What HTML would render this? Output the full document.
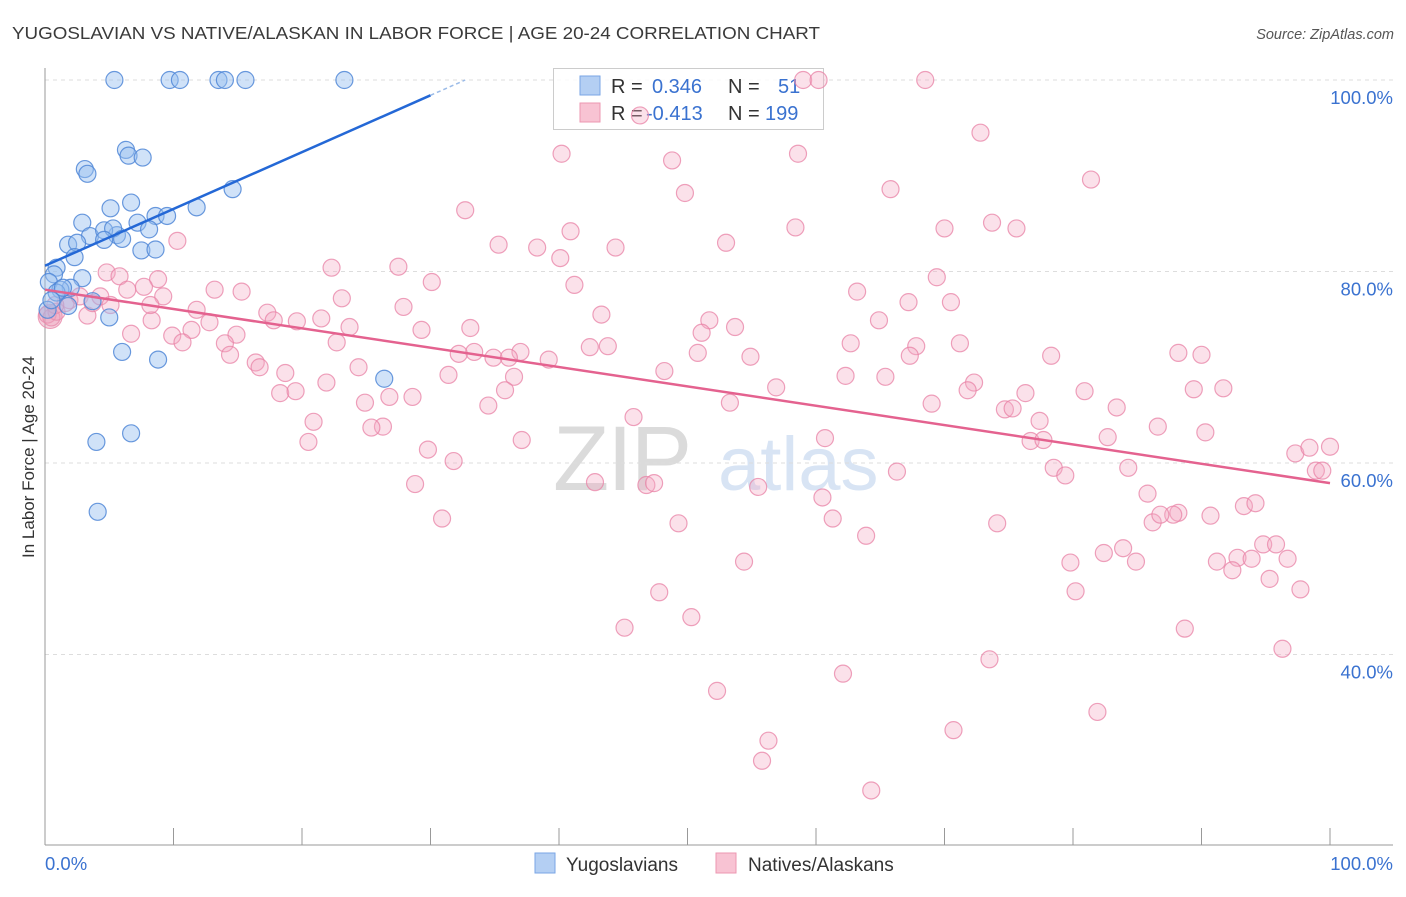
<!DOCTYPE html>
<html><head><meta charset="utf-8">
<style>
html,body{margin:0;padding:0;background:#fff;}
body{width:1406px;height:892px;overflow:hidden;font-family:"Liberation Sans",sans-serif;}
svg text{font-family:"Liberation Sans",sans-serif;}
</style></head>
<body>
<svg id="chart" width="1406" height="892" xmlns="http://www.w3.org/2000/svg">
  <text x="12" y="39" font-size="17.5" fill="#3a3a3a" textLength="808" lengthAdjust="spacingAndGlyphs">YUGOSLAVIAN VS NATIVE/ALASKAN IN LABOR FORCE | AGE 20-24 CORRELATION CHART</text>
  <text x="1394" y="39" font-size="14.5" fill="#555" font-style="italic" text-anchor="end">Source: ZipAtlas.com</text>
  <g opacity="0.45">
    <text x="553" y="490" font-size="92" font-family="Liberation Serif" fill="#b0b0b0" letter-spacing="-2">ZIP</text>
    <text x="718" y="490" font-size="76" fill="#a9c4e8">atlas</text>
  </g>
  <g id="grid"></g>
  <g id="axes"></g>
  <text transform="translate(34,457) rotate(-90)" font-size="17" fill="#333" text-anchor="middle">In Labor Force | Age 20-24</text>
  <g id="legend">
    <rect x="553.5" y="68.5" width="270" height="61" fill="#fff" fill-opacity="0.85" stroke="#ccc"/>
    <rect x="580" y="76" width="20" height="19" fill="#b4cff3" stroke="#7aa6e6"/>
    <rect x="580" y="103" width="20" height="19" fill="#f8c3d3" stroke="#ec97b2"/>
    <text x="611" y="93" font-size="20" fill="#333">R = </text>
    <text x="652" y="93" font-size="20" fill="#3a72d0">0.346</text>
    <text x="728" y="93" font-size="20" fill="#333">N = </text>
    <text x="778" y="93" font-size="20" fill="#3a72d0">51</text>
    <text x="611" y="120" font-size="20" fill="#333">R = </text>
    <text x="646" y="120" font-size="20" fill="#3a72d0">-0.413</text>
    <text x="728" y="120" font-size="20" fill="#333">N = </text>
    <text x="765" y="120" font-size="20" fill="#3a72d0">199</text>
  </g>
  <g id="points"></g>
  <g id="trends"></g>
  <g>
    <rect x="535" y="853" width="20" height="20" fill="#b4cff3" stroke="#7aa6e6"/>
    <text x="566" y="871" font-size="19" fill="#333">Yugoslavians</text>
    <rect x="716" y="853" width="20" height="20" fill="#f8c3d3" stroke="#ec97b2"/>
    <text x="748" y="871" font-size="19" fill="#333">Natives/Alaskans</text>
  </g>
</svg>
<script>
const yTicks = [100, 80, 60, 40];
const yTickLabels = ["100.0%", "80.0%", "60.0%", "40.0%"];
const xTicks = [0,10,20,30,40,50,60,70,80,90,100];
const xEndLabels = ["0.0%", "100.0%"];
const blueX = [5.4,9.7,10.5,13.5,14.0,15.6,23.3,6.3,6.5,7.6,3.1,3.3,6.7,5.1,11.8,2.9,7.2,8.6,9.5,5.6,3.5,4.6,5.3,8.1,6.0,4.6,1.8,2.5,7.5,8.6,2.3,14.6,0.9,0.7,2.9,0.3,2.0,1.2,0.9,3.7,1.8,5.0,0.2,6.0,8.8,26.4,4.0,6.7,4.1,0.5,1.4];
const blueY = [100,100,100,100,100,100,100,92.7,92.1,91.9,90.7,90.2,87.2,86.6,86.7,85.1,85.1,85.8,85.8,83.8,83.7,84.3,84.5,84.4,83.4,83.3,82.8,83.0,82.2,82.3,81.5,88.6,80.4,79.7,79.3,78.9,78.3,78.1,77.8,76.9,76.4,75.2,76.0,71.6,70.8,68.8,62.2,63.1,54.9,77.0,78.3];
const pinkX = [68.5,59.0,60.2,46.3,72.8,40.2,48.8,58.6,49.8,81.4,65.8,32.7,40.9,35.3,38.3,44.4,53.0,58.4,70.0,73.7,75.6,40.1,10.3,22.3,27.5,4.8,5.8,8.8,30.1,41.2,69.4,63.2,67.2,70.5,6.4,7.7,9.2,13.2,15.3,3.3,8.3,11.8,17.3,19.6,21.5,23.7,17.8,12.8,27.9,43.3,64.9,51.7,23.1,53.7,33.1,29.3,51.1,9.9,11.4,14.9,6.7,10.7,14.0,22.7,33.4,32.2,34.9,37.0,36.1,39.2,42.4,43.8,50.8,62.7,67.8,67.3,71.2,54.9,78.3,88.2,90.0,14.4,16.4,16.7,18.7,24.4,31.4,48.2,62.3,65.4,36.5,56.9,72.3,71.8,80.9,89.4,91.7,76.3,21.9,35.8,18.3,19.5,26.8,28.6,24.9,34.5,53.3,69.0,74.7,75.3,83.4,45.8,20.9,26.3,25.4,77.4,86.6,90.3,20.5,37.1,60.7,76.7,77.7,82.7,29.8,31.8,78.5,79.4,84.3,66.3,97.3,98.4,100.0,98.9,99.4,28.8,42.8,46.8,47.4,55.5,60.5,85.8,88.2,87.8,86.2,86.8,90.7,93.3,94.2,30.9,49.3,61.3,74.1,63.9,82.4,83.9,79.8,84.9,91.2,92.8,93.9,94.8,95.8,96.7,92.4,54.4,95.3,97.7,80.2,47.8,50.3,45.1,88.7,96.3,73.5,62.1,52.3,81.9,70.7,56.3,55.8,64.3,0.2,0.5,0.9,1.9,1.6,0.8,2.7,3.7,4.3,5.1,8.2];
const pinkY = [100,100,100,96.3,94.5,92.3,91.6,92.3,88.2,89.6,88.6,86.4,84.2,82.8,82.5,82.5,83.0,84.6,84.5,85.1,84.5,81.4,83.2,80.4,80.5,79.9,79.5,79.2,78.9,78.6,79.4,77.9,76.8,76.8,78.1,78.4,77.4,78.1,77.9,75.4,74.9,76.0,75.7,74.8,75.1,74.2,74.9,74.7,76.3,75.5,74.9,74.9,77.2,74.2,74.1,73.9,73.6,73.3,73.9,73.4,73.5,72.6,72.5,72.6,71.6,71.4,71.0,71.6,71.0,70.8,72.1,72.2,71.5,72.5,72.2,71.2,72.5,71.1,71.2,71.5,71.3,71.3,70.5,70.0,69.4,70.0,69.2,69.6,69.1,69.0,69.0,67.9,68.4,67.6,67.5,67.7,67.8,67.3,68.4,67.6,67.3,67.5,66.9,66.9,66.3,66.0,66.3,66.2,65.6,65.7,65.8,64.8,64.3,63.8,63.7,64.4,63.8,63.2,62.2,62.4,62.6,62.3,62.4,62.7,61.4,60.2,59.5,58.7,59.5,59.1,61.0,61.6,61.7,59.2,59.2,57.8,58.0,57.7,57.9,57.5,56.4,56.8,54.8,54.6,53.8,54.6,54.5,55.5,55.8,54.2,53.7,54.2,53.7,52.4,50.6,51.1,49.6,49.7,49.7,50.1,50.0,51.5,51.5,50.0,48.8,49.7,47.9,46.8,46.6,46.5,43.9,42.8,42.7,40.6,39.5,38.0,36.2,34.0,32.1,31.0,28.9,25.8,75.5,75.2,75.8,77.0,76.7,76.5,77.4,76.7,77.4,76.5,76.5];
const blueTrend = {x0:0, y0:80.6, x1:30.0, y1:98.4, xDash:32.7, yDash:100};
const pinkTrend = {x0:0, y0:78.1, x1:100, y1:57.9};

const NS = "http://www.w3.org/2000/svg";
const X0 = 45, X1 = 1330, Y100 = 80, PX_PER = 9.575;
function sx(v){ return X0 + (X1 - X0) * v / 100; }
function sy(v){ return Y100 + (100 - v) * PX_PER; }
function mk(tag, attrs, parent){ const e = document.createElementNS(NS, tag); for (const k in attrs) e.setAttribute(k, attrs[k]); parent.appendChild(e); return e; }

const grid = document.getElementById('grid');
const axes = document.getElementById('axes');
yTicks.forEach((t, i) => {
  const l = mk('line', {x1: X0, x2: 1393, y1: sy(t), y2: sy(t), stroke: '#ddd', 'stroke-dasharray': '4,4'}, grid);
  
  
  const tx = mk('text', {x: 1393, y: sy(t) + 24, 'font-size': 18.5, fill: '#3a72d0', 'text-anchor': 'end'}, axes);
  tx.textContent = yTickLabels[i];
  
  
});
const yAxis = mk('line', {x1: X0, x2: X0, y1: 68, y2: 845, stroke: '#999'}, axes);


const xAxis = mk('line', {x1: X0, x2: 1393, y1: 845, y2: 845, stroke: '#999'}, axes);


xTicks.forEach(t => {
  const tk = mk('line', {x1: sx(t), x2: sx(t), y1: 828, y2: 845, stroke: '#999'}, axes);
  
  
});
const xl0 = mk('text', {x: 45, y: 870, 'font-size': 18.5, fill: '#3a72d0'}, axes);
xl0.textContent = xEndLabels[0];


const xl1 = mk('text', {x: 1393, y: 870, 'font-size': 18.5, fill: '#3a72d0', 'text-anchor': 'end'}, axes);
xl1.textContent = xEndLabels[1];



const pts = document.getElementById('points');
pinkX.forEach((x, i) => {
  const c = mk('circle', {cx: sx(x), cy: sy(pinkY[i]), r: 8.5, fill: 'rgba(244,170,195,0.35)', stroke: 'rgba(232,130,165,0.75)', 'stroke-width': 1.2}, pts);
  
  
});
const big = mk('circle', {cx: sx(0.4), cy: sy(75.3), r: 12, fill: 'rgba(230,150,180,0.45)', stroke: 'rgba(232,130,165,0.75)'}, pts);


blueX.forEach((x, i) => {
  const c = mk('circle', {cx: sx(x), cy: sy(blueY[i]), r: 8.5, fill: 'rgba(150,190,240,0.45)', stroke: 'rgba(80,135,215,0.85)', 'stroke-width': 1.2}, pts);
  
  
});

const tr = document.getElementById('trends');
const bl = mk('line', {x1: sx(blueTrend.x0), y1: sy(blueTrend.y0), x2: sx(blueTrend.x1), y2: sy(blueTrend.y1), stroke: '#2468d6', 'stroke-width': 2.5}, tr);


const bd = mk('line', {x1: sx(blueTrend.x1), y1: sy(blueTrend.y1), x2: sx(blueTrend.xDash), y2: sy(blueTrend.yDash), stroke: '#9bbbe8', 'stroke-width': 1.5, 'stroke-dasharray': '4,3'}, tr);


const pl = mk('line', {x1: sx(pinkTrend.x0), y1: sy(pinkTrend.y0), x2: sx(pinkTrend.x1), y2: sy(pinkTrend.y1), stroke: '#e4628f', 'stroke-width': 2.5}, tr);


</script>
</body></html>
